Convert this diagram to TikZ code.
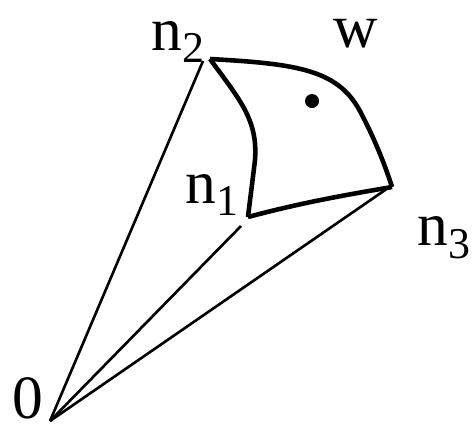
\documentclass[tikz,border=0pt]{standalone}
\usepackage{fontspec}
\setmainfont{Liberation Serif}
\usepackage{tikz}
\newcommand{\nsub}[1]{n\raisebox{-0.45ex}{\fontsize{25}{25}\selectfont #1}}

\begin{document}
\begin{tikzpicture}[x=0.02cm,y=-0.02cm,every node/.style={font=\fontsize{35}{40}\selectfont,inner sep=0pt},
   ray/.style={line width=1.5pt},
   patch/.style={line width=2.6pt,line join=round}]
\useasboundingbox (0,0) rectangle (472,427);
% ray ends and patch corners
\coordinate (o) at (50,421);
\coordinate (n1) at (241,226);
\coordinate (n2) at (203,61);
\coordinate (n3) at (388,188);
\coordinate (p1) at (248,217);
\coordinate (p2) at (210,59);
\coordinate (p3) at (392,187);
% rays from the origin
\draw[ray] (o) -- (n1);
\draw[ray] (o) -- (n2);
\draw[ray] (o) -- (n3);
% the patch
\draw[patch] (p2) .. controls (300,64) and (340,70) .. (362,115) .. controls (375,140) and (385,165) .. (p3);
\draw[patch] (p2) .. controls (240,100) and (258,120) .. (255,160) .. controls (252,185) and (250,200) .. (p1);
\draw[patch] (p1) .. controls (300,203) and (345,195) .. (p3);
\fill (312,101) circle (7);
% labels
\node (l0) at (28,398) {0};
\node (l1) at (212,195) {\nsub{1}};
\node (l2) at (178,42) {\nsub{2}};
\node (l3) at (444,238) {\nsub{3}};
\node (lw) at (356,34) {w};
\end{tikzpicture}
\end{document}
